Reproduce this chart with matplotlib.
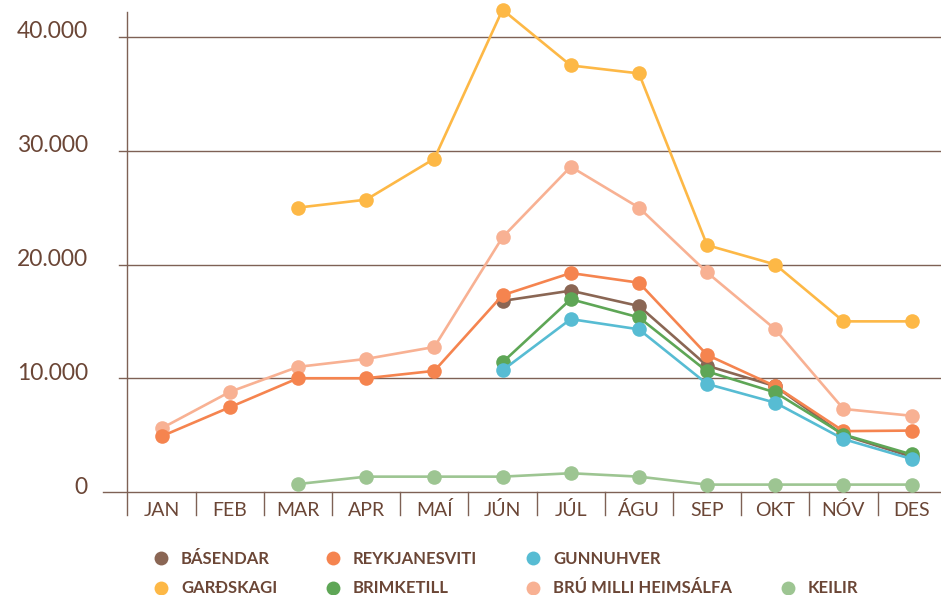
"""Monthly visitor counts at Reykjanes sites, line chart with markers."""

import matplotlib.pyplot as plt
from matplotlib.lines import Line2D
import numpy as np

months = ["JAN", "FEB", "MAR", "APR", "MAÍ", "JÚN", "JÚL", "ÁGU", "SEP", "OKT", "NÓV", "DES"]
nan = np.nan

gardskagi = [nan, nan, 25000, 25700, 29300, 42400, 37500, 36800, 21700, 20000, 15000, 15000]
bru = [5600, 8800, 11000, 11700, 12750, 22400, 28600, 25000, 19300, 14300, 7300, 6700]
keilir = [nan, nan, 700, 1350, 1350, 1350, 1650, 1350, 650, 650, 650, 650]
basendar = [nan, nan, nan, nan, nan, 16800, 17700, 16350, 11100, 9300, 5000, 3100]
reykjanesviti = [4900, 7450, 10000, 10000, 10650, 17300, 19250, 18400, 12050, 9300, 5350, 5400]
brimketill = [nan, nan, nan, nan, nan, 11400, 16950, 15350, 10600, 8750, 5050, 3300]
gunnuhver = [nan, nan, nan, nan, nan, 10700, 15200, 14300, 9500, 7850, 4650, 2900]

y_ticks = [0, 10000, 20000, 30000, 40000]
y_labels = ["0", "10.000", "20.000", "30.000", "40.000"]

# drawing order bottom -> top
series = [
    ("GARÐSKAGI", gardskagi, "#FDB846"),
    ("BRÚ MILLI HEIMSÁLFA", bru, "#F8B193"),
    ("KEILIR", keilir, "#9DC592"),
    ("BÁSENDAR", basendar, "#8A6654"),
    ("REYKJANESVITI", reykjanesviti, "#F5844F"),
    ("BRIMKETILL", brimketill, "#5EA656"),
    ("GUNNUHVER", gunnuhver, "#57BCD3"),
]
# legend is filled column by column; "" is an empty slot
legend_order = ["BÁSENDAR", "GARÐSKAGI", "REYKJANESVITI", "BRIMKETILL",
                "GUNNUHVER", "BRÚ MILLI HEIMSÁLFA", "", "KEILIR"]

text_color = "#6B4636"
grid_color = "#7E6155"

plt.rcParams["font.family"] = ["Lato", "DejaVu Sans"]

W, H = 941, 595
fig = plt.figure(figsize=(W / 100, H / 100), dpi=100)
x0, x1 = 127.5, 941
y_top, y_zero = 12, 492
ax = fig.add_axes([x0 / W, 1 - y_zero / H, (x1 - x0) / W, (y_zero - y_top) / H])

x = np.arange(len(months))
px_per_unit = (492 - 37) / 40000
ax.set_ylim(0, (y_zero - y_top) / px_per_unit)
ax.set_xlim(-0.5, 11.43)

for name, vals, col in series:
    ax.plot(x, vals, "-o", color=col, lw=1.9, markersize=10.5,
            markeredgewidth=0, label=name, clip_on=False, zorder=3)

for s in ax.spines.values():
    s.set_visible(False)
ax.set_xticks([])
ax.set_yticks([])

# gridlines and axis lines drawn in axes/figure coordinates
for val, lab in zip(y_ticks, y_labels):
    start = -(x0 - 103) / (x1 - x0) if val == 0 else -(x0 - 119) / (x1 - x0)
    ax.plot([start, 1], [val, val], transform=ax.get_yaxis_transform(),
            color=grid_color, lw=1.0, clip_on=False, zorder=1)
    ax.text(-(x0 - 88) / (x1 - x0), val + 5 / px_per_unit, lab,
            transform=ax.get_yaxis_transform(), ha="right", va="center",
            fontsize=16.5, color=text_color)

tick_len = (515 - y_zero) / (y_zero - y_top)
ax.plot([0, 0], [1, -tick_len], transform=ax.transAxes, color=grid_color,
        lw=1.0, clip_on=False, zorder=1)
for b in np.arange(0.5, 11.5, 1):
    ax.plot([b, b], [0, -tick_len], transform=ax.get_xaxis_transform(),
            color=grid_color, lw=1.0, clip_on=False, zorder=1)
for i, m in enumerate(months):
    ax.text(i, -(510 - y_zero) / (y_zero - y_top), m,
            transform=ax.get_xaxis_transform(), ha="center", va="center",
            fontsize=14, color=text_color)

colors = {name: col for name, _, col in series}
handles = []
for n in legend_order:
    if n:
        handles.append(Line2D([], [], ls="", marker="o", markersize=10,
                              markeredgewidth=0, color=colors[n]))
    else:
        handles.append(Line2D([], [], ls="", marker=None))
leg = fig.legend(handles, legend_order, ncol=4, loc="upper left",
                 bbox_to_anchor=(156 / W, 1 - 551 / H), frameon=False,
                 handlelength=0.6, handletextpad=0.9, columnspacing=3.05,
                 labelspacing=0.8, borderpad=0, borderaxespad=0,
                 prop={"size": 12, "weight": "bold"})
for t in leg.get_texts():
    t.set_color(text_color)

plt.savefig("out.png", dpi=100)
plt.close()
